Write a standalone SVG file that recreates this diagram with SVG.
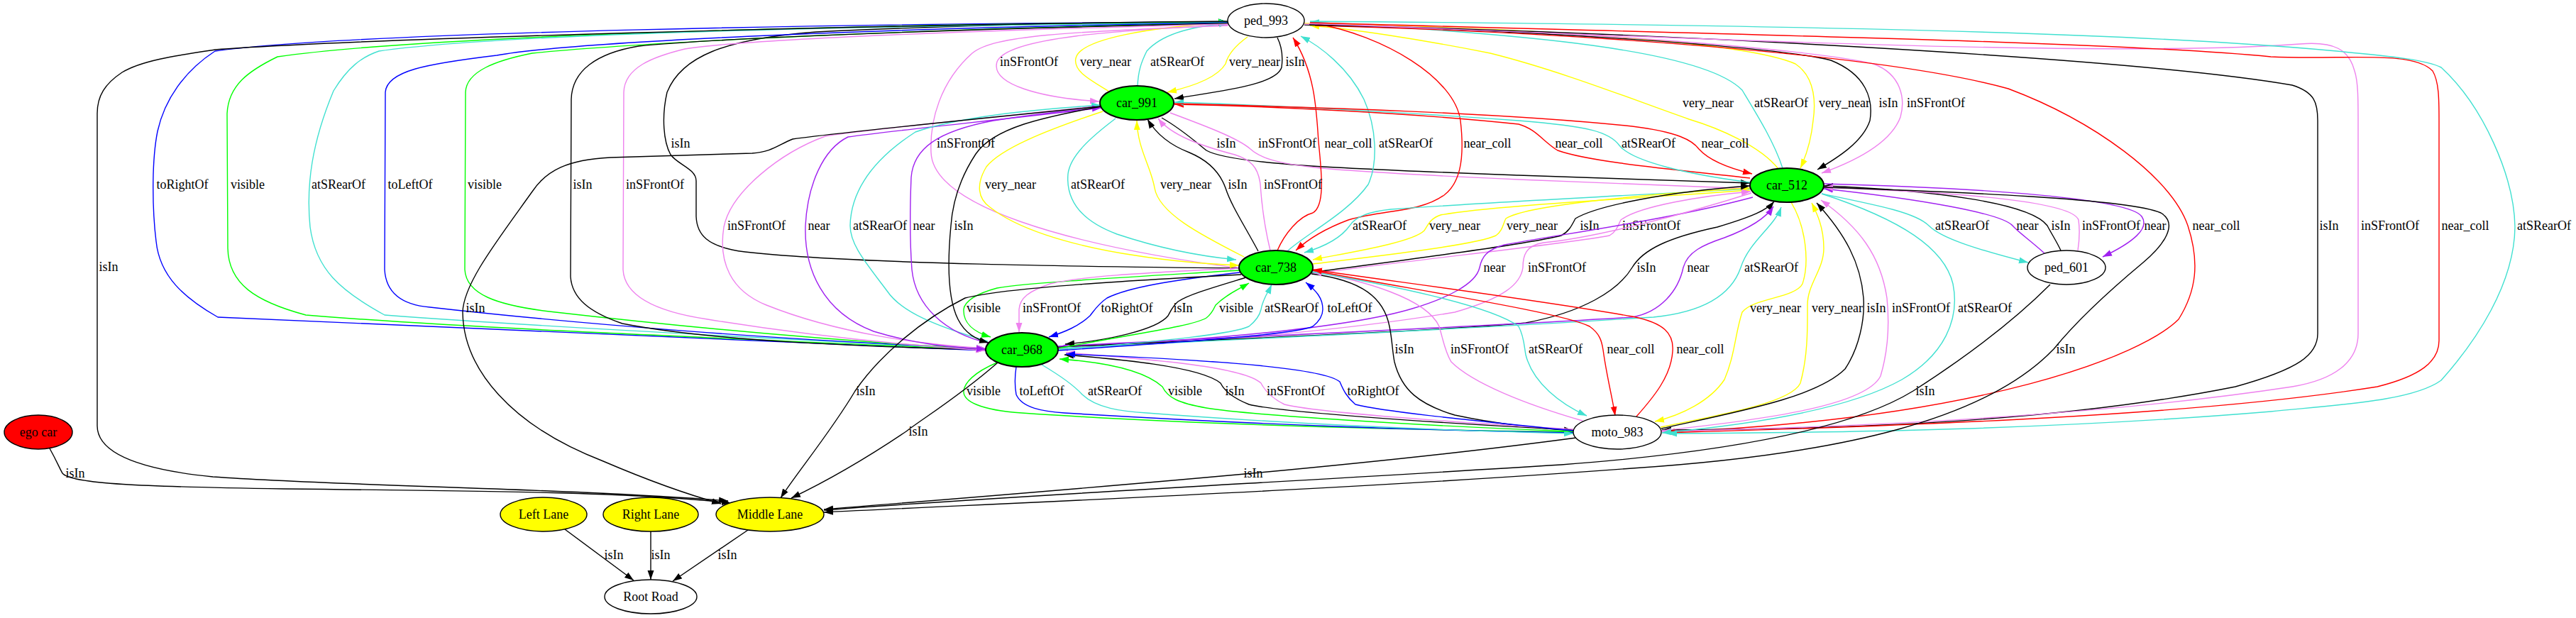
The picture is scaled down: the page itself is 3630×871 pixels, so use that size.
<svg xmlns="http://www.w3.org/2000/svg" width="3630" height="871" viewBox="0 0 3630 871">
<style>
.e path{fill:none;stroke-width:1.4}
.k{stroke:#000;marker-end:url(#ak)}
.v{stroke:#ee82ee;marker-end:url(#av)}
.t{stroke:#40e0d0;marker-end:url(#at)}
.y{stroke:#ffff00;marker-end:url(#ay)}
.p{stroke:#a020f0;marker-end:url(#ap)}
.r{stroke:#ff0000;marker-end:url(#ar)}
.b{stroke:#0000ff;marker-end:url(#ab)}
.g{stroke:#00ff00;marker-end:url(#ag)}
text{font-family:"Liberation Serif","Times New Roman",serif;font-size:18px;text-anchor:middle;fill:#000}
.n ellipse{stroke:#000;stroke-width:1.4}
.n .c{stroke-width:2}
</style>
<defs>
<marker id="ak" viewBox="0 0 13 10" refX="13" refY="5" markerWidth="13" markerHeight="10" markerUnits="userSpaceOnUse" orient="auto"><path d="M0,0.5 L13,5 L0,9.5 z" fill="#000"/></marker>
<marker id="av" viewBox="0 0 13 10" refX="13" refY="5" markerWidth="13" markerHeight="10" markerUnits="userSpaceOnUse" orient="auto"><path d="M0,0.5 L13,5 L0,9.5 z" fill="#ee82ee"/></marker>
<marker id="at" viewBox="0 0 13 10" refX="13" refY="5" markerWidth="13" markerHeight="10" markerUnits="userSpaceOnUse" orient="auto"><path d="M0,0.5 L13,5 L0,9.5 z" fill="#40e0d0"/></marker>
<marker id="ay" viewBox="0 0 13 10" refX="13" refY="5" markerWidth="13" markerHeight="10" markerUnits="userSpaceOnUse" orient="auto"><path d="M0,0.5 L13,5 L0,9.5 z" fill="#ffff00"/></marker>
<marker id="ap" viewBox="0 0 13 10" refX="13" refY="5" markerWidth="13" markerHeight="10" markerUnits="userSpaceOnUse" orient="auto"><path d="M0,0.5 L13,5 L0,9.5 z" fill="#a020f0"/></marker>
<marker id="ar" viewBox="0 0 13 10" refX="13" refY="5" markerWidth="13" markerHeight="10" markerUnits="userSpaceOnUse" orient="auto"><path d="M0,0.5 L13,5 L0,9.5 z" fill="#ff0000"/></marker>
<marker id="ab" viewBox="0 0 13 10" refX="13" refY="5" markerWidth="13" markerHeight="10" markerUnits="userSpaceOnUse" orient="auto"><path d="M0,0.5 L13,5 L0,9.5 z" fill="#0000ff"/></marker>
<marker id="ag" viewBox="0 0 13 10" refX="13" refY="5" markerWidth="13" markerHeight="10" markerUnits="userSpaceOnUse" orient="auto"><path d="M0,0.5 L13,5 L0,9.5 z" fill="#00ff00"/></marker>
</defs>
<rect x="0" y="0" width="3630" height="871" fill="#fff"/>
<g id="connectors" class="e">
<g><path class="v" d="M1731,35 C1600,42 1420,50 1405,87 C1395,120 1470,138 1549,143"/><text x="1450" y="93">inSFrontOf</text></g>
<g><path class="y" d="M1563,129 C1535,112 1512,100 1516,82 C1522,55 1620,38 1730,32"/><text x="1558" y="93">very_near</text></g>
<g><path class="t" d="M1603,121 C1604,100 1608,88 1616,72 C1640,45 1690,36 1731,33"/><text x="1659" y="93">atSRearOf</text></g>
<g><path class="y" d="M1758,52 C1740,65 1730,78 1727,90 C1715,110 1680,122 1645,130"/><text x="1768" y="93">very_near</text></g>
<g><path class="k" d="M1800,53 C1806,65 1808,80 1806,95 C1798,120 1720,128 1655,139"/><text x="1825" y="93">isIn</text></g>
<g><path class="y" d="M2506,238 C2480,205 2420,180 2380,168 C2300,140 2200,100 2100,75 C2000,55 1900,40 1846,36"/><text x="2407" y="151">very_near</text></g>
<g><path class="t" d="M2512,237 C2500,200 2475,160 2455,127 C2400,70 2150,48 1846,31"/><text x="2510" y="151">atSRearOf</text></g>
<g><path class="y" d="M1838,33 C2100,38 2450,55 2530,90 C2560,110 2558,150 2555,170 C2552,200 2545,220 2537,237"/><text x="2599" y="151">very_near</text></g>
<g><path class="k" d="M1838,35 C2150,42 2500,65 2580,85 C2630,105 2640,140 2635,170 C2625,200 2590,222 2561,239"/><text x="2661" y="151">isIn</text></g>
<g><path class="v" d="M1838,34 C2200,40 2560,70 2640,90 C2680,105 2685,140 2678,165 C2665,200 2620,225 2567,244"/><text x="2728" y="151">inSFrontOf</text></g>
<g><path class="v" d="M1730,36 C1500,45 1400,50 1370,75 C1325,115 1310,170 1312,215 C1315,290 1500,345 1746,378"/><text x="1361" y="208">inSFrontOf</text></g>
<g><path class="k" d="M1746,378 C1550,376 1200,372 1050,355 C995,348 982,330 981,305 L981,255 C981,238 955,232 945,218 C935,200 932,165 940,130 C960,80 1020,55 1150,45 C1350,35 1600,31 1730,31"/><text x="959" y="208">isIn</text></g>
<g><path class="k" d="M1637,166 C1665,182 1685,200 1700,212 C1735,232 1900,238 2140,247 C2300,252 2400,255 2466,258"/><text x="1728" y="208">isIn</text></g>
<g><path class="v" d="M1649,159 C1700,178 1745,195 1762,210 C1790,235 1850,240 2140,253 C2300,260 2400,263 2467,266"/><text x="1814" y="208">inSFrontOf</text></g>
<g><path class="r" d="M1800,353 C1810,330 1830,305 1850,300 C1868,290 1862,240 1858,200 C1855,150 1852,100 1822,53"/><text x="1900" y="208">near_coll</text></g>
<g><path class="t" d="M1814,354 C1840,330 1900,300 1928,260 C1942,230 1940,180 1922,140 C1900,95 1860,65 1833,51"/><text x="1981" y="208">atSRearOf</text></g>
<g><path class="r" d="M1853,33 C1950,50 2050,110 2058,170 C2065,230 2055,260 2035,275 C2000,300 1950,295 1900,310 C1860,325 1840,340 1826,353"/><text x="2096" y="208">near_coll</text></g>
<g><path class="r" d="M2466,251 C2350,238 2240,228 2195,212 C2175,200 2165,182 2140,175 C2000,160 1800,150 1655,147"/><text x="2225" y="208">near_coll</text></g>
<g><path class="t" d="M2466,257 C2380,246 2300,228 2282,205 C2268,186 2240,178 2140,170 C1950,156 1750,147 1655,144"/><text x="2323" y="208">atSRearOf</text></g>
<g><path class="r" d="M1654,146 C1800,150 2100,157 2300,178 C2365,186 2385,198 2394,210 C2410,228 2440,238 2469,245"/><text x="2431" y="208">near_coll</text></g>
<g><path class="b" d="M1389,494 C1000,478 600,460 307,447 C260,420 225,390 220,340 C215,300 213,230 222,185 C232,140 260,100 303,72 C500,45 1200,33 1730,31"/><text x="257" y="266">toRightOf</text></g>
<g><path class="g" d="M1389,493 C1000,476 650,462 431,444 C360,425 322,400 321,350 L320,160 C322,120 350,100 391,80 C600,50 1200,34 1730,31"/><text x="349" y="266">visible</text></g>
<g><path class="t" d="M1389,492 C1000,473 700,456 542,444 C480,410 445,380 437,320 C431,260 440,200 470,128 C490,95 510,80 534,72 C700,48 1200,36 1731,32"/><text x="477" y="266">atSRearOf</text></g>
<g><path class="b" d="M1730,32 C1200,40 800,60 700,78 C600,90 545,100 543,130 L542,380 C544,415 570,430 606,433 C800,455 1100,480 1389,491"/><text x="578" y="266">toLeftOf</text></g>
<g><path class="g" d="M1730,33 C1300,40 900,60 750,75 C700,85 657,100 656,130 L655,380 C657,415 700,430 774,439 C1000,465 1200,482 1389,492"/><text x="683" y="266">visible</text></g>
<g><path class="k" d="M1730,33 C1300,42 1000,55 900,65 C840,75 806,100 805,140 L804,390 C806,420 830,440 877,456 C1000,480 1200,488 1389,493"/><text x="821" y="266">isIn</text></g>
<g><path class="v" d="M1730,34 C1400,42 1050,55 965,69 C920,80 880,95 879,130 L878,380 C880,420 930,440 997,450 C1150,475 1300,488 1388,494"/><text x="923" y="266">inSFrontOf</text></g>
<g><path class="y" d="M1554,157 C1470,185 1410,210 1390,235 C1375,260 1378,280 1395,292 C1430,320 1500,345 1600,360 C1650,368 1700,372 1746,374"/><text x="1424" y="266">very_near</text></g>
<g><path class="t" d="M1572,167 C1535,195 1508,220 1505,245 C1502,280 1520,310 1574,330 C1640,352 1700,362 1742,366"/><text x="1547" y="266">atSRearOf</text></g>
<g><path class="y" d="M1753,362 C1690,330 1633,300 1627,265 C1622,235 1603,210 1602,170"/><text x="1671" y="266">very_near</text></g>
<g><path class="k" d="M1773,354 C1755,320 1735,290 1727,265 C1718,240 1700,225 1676,215 C1650,205 1630,190 1617,168"/><text x="1744" y="266">isIn</text></g>
<g><path class="v" d="M1790,353 C1782,320 1778,290 1776,260 C1773,235 1762,225 1740,218 C1690,205 1650,190 1632,167"/><text x="1822" y="266">inSFrontOf</text></g>
<g><path class="v" d="M1551,149 C1400,165 1200,185 1163,192 C1100,215 1030,270 1020,320 C1012,370 1030,410 1080,430 C1180,470 1300,486 1389,491"/><text x="1066" y="324">inSFrontOf</text></g>
<g><path class="p" d="M1552,152 C1400,170 1250,185 1195,193 C1160,210 1138,260 1135,318 C1133,380 1160,440 1231,467 C1290,485 1340,490 1389,492"/><text x="1154" y="324">near</text></g>
<g><path class="t" d="M1392,481 C1320,460 1270,440 1250,410 C1220,370 1198,345 1198,318 C1199,270 1230,225 1290,186 C1350,165 1450,155 1551,148"/><text x="1240" y="324">atSRearOf</text></g>
<g><path class="p" d="M1395,484 C1330,470 1290,430 1285,380 C1282,340 1282,300 1284,250 C1287,210 1320,185 1400,170 C1450,162 1500,156 1552,152"/><text x="1302" y="324">near</text></g>
<g><path class="k" d="M1552,150 C1470,165 1400,180 1375,217 C1350,255 1342,290 1340,318 C1335,370 1335,420 1350,450 C1360,470 1375,478 1393,483"/><text x="1358" y="324">isIn</text></g>
<g><path class="t" d="M2466,266 C2300,275 2100,285 1960,295 C1930,298 1910,305 1902,318 C1890,335 1865,348 1838,356"/><text x="1944" y="324">atSRearOf</text></g>
<g><path class="y" d="M2466,268 C2300,280 2100,290 2030,303 C2015,308 2012,318 2007,325 C1990,342 1900,356 1850,366"/><text x="2050" y="324">very_near</text></g>
<g><path class="y" d="M1850,372 C1950,360 2080,345 2108,332 C2118,325 2118,315 2122,308 C2150,290 2300,275 2466,265"/><text x="2159" y="324">very_near</text></g>
<g><path class="k" d="M1848,384 C1950,370 2150,345 2200,332 C2212,326 2216,315 2220,308 C2250,290 2350,270 2466,262"/><text x="2240" y="324">isIn</text></g>
<g><path class="v" d="M1849,386 C2000,365 2200,345 2268,332 C2278,326 2280,318 2284,310 C2310,290 2400,276 2467,270"/><text x="2327" y="324">inSFrontOf</text></g>
<g><path class="t" d="M2567,273 C2650,290 2700,300 2718,318 C2735,335 2780,350 2858,370"/><text x="2765" y="324">atSRearOf</text></g>
<g><path class="p" d="M2881,357 C2860,338 2845,328 2836,318 C2820,300 2700,280 2570,266"/><text x="2857" y="324">near</text></g>
<g><path class="k" d="M2904,353 C2898,340 2890,328 2885,318 C2860,285 2720,268 2570,262"/><text x="2904" y="324">isIn</text></g>
<g><path class="v" d="M2928,353 C2930,340 2931,325 2929,310 C2920,285 2780,272 2570,264"/><text x="2975" y="324">inSFrontOf</text></g>
<g><path class="p" d="M2570,259 C2800,265 3000,280 3018,305 C3030,322 3005,342 2963,362"/><text x="3037" y="324">near</text></g>
<g><path class="r" d="M1853,36 C2200,45 2650,75 2830,125 C2950,170 3060,250 3083,318 C3100,370 3095,410 3070,450 C3020,500 2800,590 2347,609"/><text x="3123" y="324">near_coll</text></g>
<g><path class="k" d="M1845,35 C2300,45 3000,80 3230,120 C3262,130 3266,145 3266,170 L3266,470 C3266,500 3240,520 3150,545 C2900,595 2600,605 2342,606"/><text x="3282" y="324">isIn</text></g>
<g><path class="v" d="M1845,33 C2500,60 3000,80 3241,62 C3290,58 3310,70 3318,100 C3323,115 3323,140 3323,170 L3323,470 C3323,510 3290,535 3230,545 C3000,580 2700,600 2342,608"/><text x="3368" y="324">inSFrontOf</text></g>
<g><path class="r" d="M1846,32 C2500,50 3000,60 3200,80 C3300,85 3400,70 3428,100 C3437,115 3437,140 3437,170 L3437,480 C3437,510 3410,530 3350,545 C3100,585 2700,600 2347,610"/><text x="3474" y="324">near_coll</text></g>
<g><path class="t" d="M1846,30 C2500,35 3000,45 3281,71 C3380,80 3420,85 3440,95 C3500,150 3543,250 3544,320 C3543,400 3490,480 3440,536 C3400,565 3300,570 3200,580 C2900,605 2600,610 2350,611"/><text x="3585" y="324">atSRearOf</text></g>
<g><path class="k" d="M1730,30 C1200,35 500,55 303,70 C250,78 200,85 172,102 C148,118 137,135 137,160 L137,600 C137,640 200,662 300,672 C500,686 800,688 1026,706"/><text x="153" y="382">isIn</text></g>
<g><path class="p" d="M2470,278 C2350,310 2200,330 2120,345 C2095,352 2088,362 2085,377 C2080,400 2040,420 1990,435 C1900,462 1700,480 1492,489"/><text x="2106" y="383">near</text></g>
<g><path class="v" d="M2468,272 C2380,300 2250,335 2175,342 C2150,346 2146,360 2146,377 C2143,400 2120,420 2050,440 C1900,465 1700,483 1492,491"/><text x="2194" y="383">inSFrontOf</text></g>
<g><path class="k" d="M1491,489 C1800,475 2050,465 2150,455 C2230,440 2280,410 2300,377 C2315,352 2350,335 2420,320 C2470,305 2490,296 2500,284"/><text x="2320" y="383">isIn</text></g>
<g><path class="p" d="M1491,488 C1800,472 2100,460 2300,447 C2340,440 2365,410 2372,377 C2378,355 2400,345 2430,335 C2470,320 2490,305 2499,291"/><text x="2393" y="383">near</text></g>
<g><path class="t" d="M1491,491 C1800,476 2100,462 2330,447 C2400,440 2440,415 2453,377 C2465,340 2500,320 2510,292"/><text x="2496" y="383">atSRearOf</text></g>
<g><path class="k" d="M1551,150 C1400,165 1200,185 1117,196 C1095,205 1088,214 1060,216 L860,222 C800,225 770,240 750,270 C700,340 653,400 652,440 C653,520 720,600 850,650 C920,680 980,700 1016,710"/><text x="670" y="440">isIn</text></g>
<g><path class="g" d="M1746,381 C1600,390 1450,398 1405,406 C1375,414 1359,425 1358,436 C1357,455 1372,468 1396,475"/><text x="1386" y="440">visible</text></g>
<g><path class="v" d="M1746,378 C1600,385 1520,390 1480,400 C1450,410 1437,420 1436,436 L1436,468"/><text x="1482" y="440">inSFrontOf</text></g>
<g><path class="b" d="M1747,384 C1650,395 1590,405 1560,420 C1548,428 1543,436 1536,445 C1520,460 1500,468 1478,475"/><text x="1588" y="440">toRightOf</text></g>
<g><path class="k" d="M1756,391 C1710,405 1675,415 1660,425 C1652,432 1650,438 1646,445 C1630,465 1560,480 1501,485"/><text x="1667" y="440">isIn</text></g>
<g><path class="g" d="M1491,491 C1600,470 1680,460 1700,448 C1708,442 1710,436 1713,430 C1728,415 1745,408 1760,399"/><text x="1742" y="440">visible</text></g>
<g><path class="t" d="M1491,493 C1650,480 1740,470 1760,460 C1770,452 1775,445 1777,436 C1780,420 1787,412 1792,401"/><text x="1820" y="440">atSRearOf</text></g>
<g><path class="b" d="M1491,494 C1700,480 1830,470 1850,460 C1860,452 1864,445 1864,436 C1864,420 1855,410 1840,398"/><text x="1902" y="440">toLeftOf</text></g>
<g><path class="y" d="M2524,285 C2545,320 2550,370 2540,400 C2530,420 2470,420 2455,440 C2445,470 2445,500 2430,535 C2410,565 2370,585 2332,594"/><text x="2502" y="440">very_near</text></g>
<g><path class="y" d="M2340,602 C2450,580 2525,565 2537,540 C2548,500 2547,460 2547,430 C2547,400 2570,380 2570,350 C2570,320 2560,300 2553,286"/><text x="2589" y="440">very_near</text></g>
<g><path class="k" d="M2341,604 C2450,580 2560,560 2600,520 C2620,490 2628,450 2626,420 C2622,370 2600,330 2560,286"/><text x="2644" y="440">isIn</text></g>
<g><path class="v" d="M2341,607 C2500,590 2630,570 2650,530 C2662,490 2662,450 2659,420 C2650,360 2620,320 2566,282"/><text x="2707" y="440">inSFrontOf</text></g>
<g><path class="t" d="M2567,273 C2680,310 2740,350 2752,400 C2762,450 2740,500 2680,535 C2600,580 2450,600 2342,610"/><text x="2797" y="440">atSRearOf</text></g>
<g><path class="k" d="M1848,386 C1920,395 1950,420 1958,460 C1962,480 1962,495 1965,510 C1975,550 2000,570 2050,585 C2120,600 2180,604 2217,607"/><text x="1979" y="498">isIn</text></g>
<g><path class="v" d="M2230,593 C2150,570 2075,540 2045,510 C2036,495 2034,480 2028,460 C2010,420 1920,395 1850,383"/><text x="2085" y="498">inSFrontOf</text></g>
<g><path class="t" d="M1848,383 C1950,400 2100,430 2140,460 C2148,475 2148,490 2150,500 C2160,540 2200,570 2236,586"/><text x="2192" y="498">atSRearOf</text></g>
<g><path class="r" d="M1849,381 C2000,410 2200,440 2240,460 C2254,470 2257,480 2259,493 C2264,530 2272,560 2276,586"/><text x="2298" y="498">near_coll</text></g>
<g><path class="r" d="M2306,587 C2330,560 2355,530 2357,495 C2359,470 2345,455 2300,446 C2150,420 1950,395 1850,380"/><text x="2396" y="498">near_coll</text></g>
<g><path class="k" d="M2569,264 C2750,270 3000,280 3045,300 C3070,315 3050,345 3020,370 C2960,420 2920,460 2894,492 C2800,590 2600,640 2300,660 C1900,690 1400,710 1161,722"/><text x="2911" y="498">isIn</text></g>
<g><path class="k" d="M2889,401 C2830,460 2760,510 2696,551 C2600,610 2400,640 2200,655 C1800,680 1400,700 1161,719"/><text x="2713" y="557">isIn</text></g>
<g><path class="k" d="M1749,387 C1600,395 1420,405 1360,420 C1300,450 1240,500 1205,551 C1170,610 1120,670 1100,702"/><text x="1220" y="557">isIn</text></g>
<g><path class="g" d="M1405,511 C1372,525 1359,540 1358,551 C1357,565 1380,578 1440,582 C1700,600 2000,606 2217,609"/><text x="1386" y="557">visible</text></g>
<g><path class="b" d="M1432,517 C1430,530 1430,545 1432,556 C1440,575 1470,580 1500,582 C1800,600 2000,606 2217,610"/><text x="1468" y="557">toLeftOf</text></g>
<g><path class="t" d="M1468,514 C1495,530 1515,545 1525,556 C1545,575 1580,580 1616,582 C1850,600 2050,607 2217,611"/><text x="1571" y="557">atSRearOf</text></g>
<g><path class="g" d="M2217,608 C2000,600 1760,585 1700,575 C1660,568 1645,560 1638,545 C1610,520 1550,510 1493,506"/><text x="1670" y="557">visible</text></g>
<g><path class="k" d="M2217,606 C2000,595 1800,580 1760,570 C1735,560 1725,550 1720,540 C1690,515 1560,505 1500,500"/><text x="1740" y="557">isIn</text></g>
<g><path class="v" d="M2217,605 C2000,592 1850,580 1810,570 C1790,560 1782,550 1777,540 C1750,515 1600,505 1502,497"/><text x="1826" y="557">inSFrontOf</text></g>
<g><path class="b" d="M2217,607 C2050,590 1950,580 1910,570 C1898,560 1893,550 1888,538 C1860,515 1650,505 1502,499"/><text x="1935" y="557">toRightOf</text></g>
<g><path class="k" d="M1406,511 C1350,560 1300,590 1277,608 C1200,660 1140,690 1115,702"/><text x="1294" y="614">isIn</text></g>
<g><path class="k" d="M70,632 C80,650 84,660 88,667 C100,682 200,686 400,689 C700,692 900,694 1030,709"/><text x="106" y="673">isIn</text></g>
<g><path class="k" d="M2221,617 C1900,660 1500,690 1161,718"/><text x="1766" y="673">isIn</text></g>
<g><path class="k" d="M796,746 L893,818"/><text x="865" y="788">isIn</text></g>
<g><path class="k" d="M917,749 L917,817"/><text x="931" y="788">isIn</text></g>
<g><path class="k" d="M1054,747 L948,819"/><text x="1025" y="788">isIn</text></g>
</g>
<g id="ped_993" class="n"><ellipse cx="1784" cy="29" rx="54" ry="24" fill="#fff"/><text x="1784" y="35">ped_993</text></g>
<g id="car_991" class="n"><ellipse class="c" cx="1602" cy="145" rx="52" ry="24" fill="#00ff00"/><text x="1602" y="151">car_991</text></g>
<g id="car_512" class="n"><ellipse class="c" cx="2518" cy="261" rx="52" ry="24" fill="#00ff00"/><text x="2518" y="267">car_512</text></g>
<g id="car_738" class="n"><ellipse class="c" cx="1798" cy="377" rx="52" ry="24" fill="#00ff00"/><text x="1798" y="383">car_738</text></g>
<g id="ped_601" class="n"><ellipse cx="2912" cy="377" rx="55" ry="24" fill="#fff"/><text x="2912" y="383">ped_601</text></g>
<g id="car_968" class="n"><ellipse class="c" cx="1440" cy="493" rx="51" ry="24" fill="#00ff00"/><text x="1440" y="499">car_968</text></g>
<g id="moto_983" class="n"><ellipse cx="2279" cy="609" rx="62" ry="24" fill="#fff"/><text x="2279" y="615">moto_983</text></g>
<g id="ego_car" class="n"><ellipse cx="54" cy="609" rx="48" ry="24" fill="#ff0000"/><text x="54" y="615">ego car</text></g>
<g id="left_lane" class="n"><ellipse cx="766" cy="725" rx="61" ry="24" fill="#ffff00"/><text x="766" y="731">Left Lane</text></g>
<g id="right_lane" class="n"><ellipse cx="917" cy="725" rx="67" ry="24" fill="#ffff00"/><text x="917" y="731">Right Lane</text></g>
<g id="middle_lane" class="n"><ellipse cx="1085" cy="725" rx="76" ry="24" fill="#ffff00"/><text x="1085" y="731">Middle Lane</text></g>
<g id="root_road" class="n"><ellipse cx="917" cy="841" rx="65" ry="24" fill="#fff"/><text x="917" y="847">Root Road</text></g>
</svg>
